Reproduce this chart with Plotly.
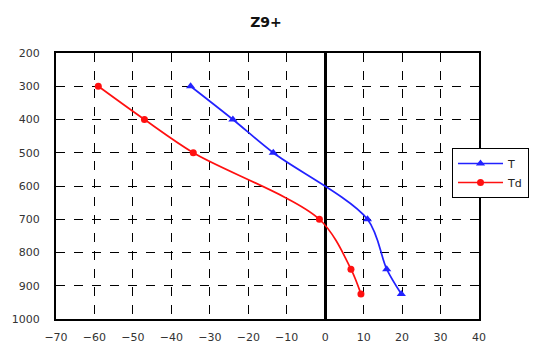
import plotly.graph_objects as go

pressure_T = [300, 400, 500, 700, 850, 925]
temp_T = [-35, -24, -13.5, 11, 16, 19.8]
pressure_Td = [300, 400, 500, 700, 850, 925]
temp_Td = [-59, -47, -34.3, -1.5, 6.7, 9.3]

x_ticks = [-70, -60, -50, -40, -30, -20, -10, 0, 10, 20, 30, 40]
y_ticks = [200, 300, 400, 500, 600, 700, 800, 900, 1000]

# page body has an 8px margin, so the figure is drawn 8px smaller and offset
W, H = 529, 339
L, R, T, B = 48, 58, 45, 28

fig = go.Figure()
fig.add_trace(go.Scatter(x=temp_T, y=pressure_T, name="T", mode="lines+markers",
                         line=dict(color="#2222FF", width=1.7, shape="spline", smoothing=0.9),
                         marker=dict(symbol="triangle-up", size=8, color="#2222FF")))
fig.add_trace(go.Scatter(x=temp_Td, y=pressure_Td, name="Td", mode="lines+markers",
                         line=dict(color="#FF1010", width=1.7, shape="spline", smoothing=0.9),
                         marker=dict(symbol="circle", size=7, color="#FF1010")))

fam = "DejaVu Sans, Verdana, sans-serif"
pw = W - L - R
ph = H - T - B
fig.update_layout(
    width=W, height=H,
    margin=dict(l=L, r=R, t=T, b=B, autoexpand=False),
    paper_bgcolor="white", plot_bgcolor="white",
    font=dict(family=fam, size=11, color="#333"),
    title=dict(text="<b>Z9+</b>", x=(266 - 8) / W, xanchor="center", y=1 - (22 - 8) / H, yanchor="middle",
               font=dict(family=fam, size=14, color="#111")),
    showlegend=True,
    legend=dict(x=(452 - 56) / pw, y=1 - (148 - 53) / ph, xanchor="left", yanchor="top",
                bordercolor="black", borderwidth=1, bgcolor="white",
                font=dict(family=fam, size=11, color="#222"),
                itemwidth=45, tracegroupgap=4),
    xaxis=dict(range=[-70, 40], tickvals=x_ticks, showgrid=True, gridcolor="black", griddash="dash",
               gridwidth=1, zeroline=True, zerolinecolor="black", zerolinewidth=3,
               showline=True, linecolor="black", linewidth=2, mirror=True,
               ticks="outside", ticklen=7, tickcolor="rgba(0,0,0,0)", fixedrange=True, automargin=False),
    yaxis=dict(range=[1000, 200], tickvals=y_ticks, showgrid=True, gridcolor="black", griddash="dash",
               gridwidth=1, zeroline=False,
               showline=True, linecolor="black", linewidth=2, mirror=True,
               ticks="outside", ticklen=12, tickcolor="rgba(0,0,0,0)", fixedrange=True, automargin=False),
)
fig.write_html("out.html")
